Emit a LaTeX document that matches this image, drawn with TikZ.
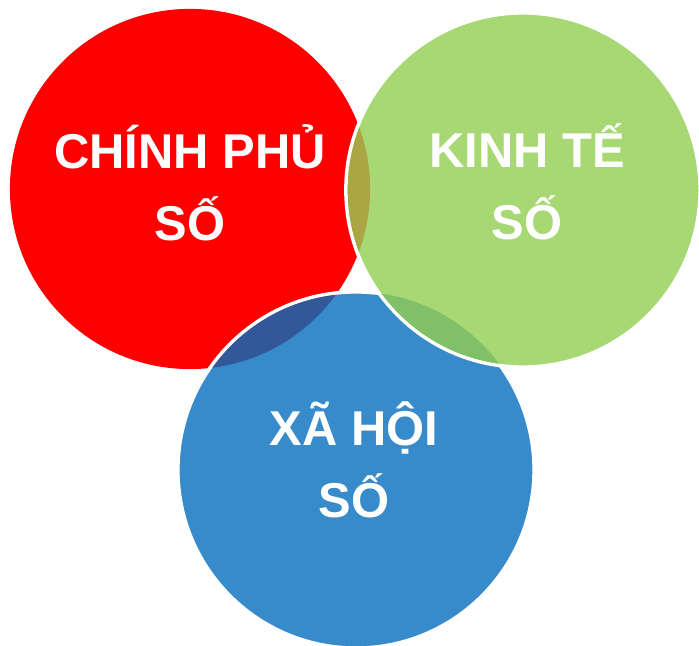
\documentclass[tikz,border=0pt]{standalone}
\usepackage{fontspec}
\setmainfont{Liberation Sans}
\usepackage{tikz}

\definecolor{govred}{HTML}{FF0000}
\definecolor{econgreen}{HTML}{A7D874}
\definecolor{socblue}{HTML}{378BCA}
\definecolor{govecon}{HTML}{A9A643}
\definecolor{govsoc}{HTML}{33589A}
\definecolor{econsoc}{HTML}{7FC068}

\begin{document}
\begin{tikzpicture}[x=0.01cm, y=0.01cm,
    ball/.style={circle, inner sep=0pt, outer sep=0pt, minimum size=3.56cm},
    rim/.style={draw=white, line width=1pt},
    caption/.style={align=center, text=white, font=\fontsize{13.9}{20.6}\selectfont\bfseries}]
    \path[use as bounding box, fill=white] (0,0) rectangle (699,646);

    \node[ball, fill=govred, minimum size=3.6cm] (gov) at (190,457) {};
    \node[ball, rim, fill=socblue] (soc) at (356,176) {};
    \begin{scope}
      \clip (gov.center) circle[radius=1.8cm];
      \fill[govsoc] (soc.center) circle[radius=1.762cm];
    \end{scope}
    \node[ball, rim, fill=econgreen, minimum size=3.54cm] (econ) at (523,456) {};
    \begin{scope}
      \clip (gov.center) circle[radius=1.8cm];
      \fill[govecon] (econ.center) circle[radius=1.752cm];
    \end{scope}
    \begin{scope}
      \clip (soc.center) circle[radius=1.78cm];
      \fill[econsoc] (econ.center) circle[radius=1.752cm];
    \end{scope}

    \node[caption] (govtext) at (190,463) {CHÍNH PHỦ\\SỐ};
    \node[caption] (econtext) at (527,464) {KINH TẾ\\SỐ};
    \node[caption] (soctext) at (354,186) {XÃ HỘI\\SỐ};
  \end{tikzpicture}
\end{document}
